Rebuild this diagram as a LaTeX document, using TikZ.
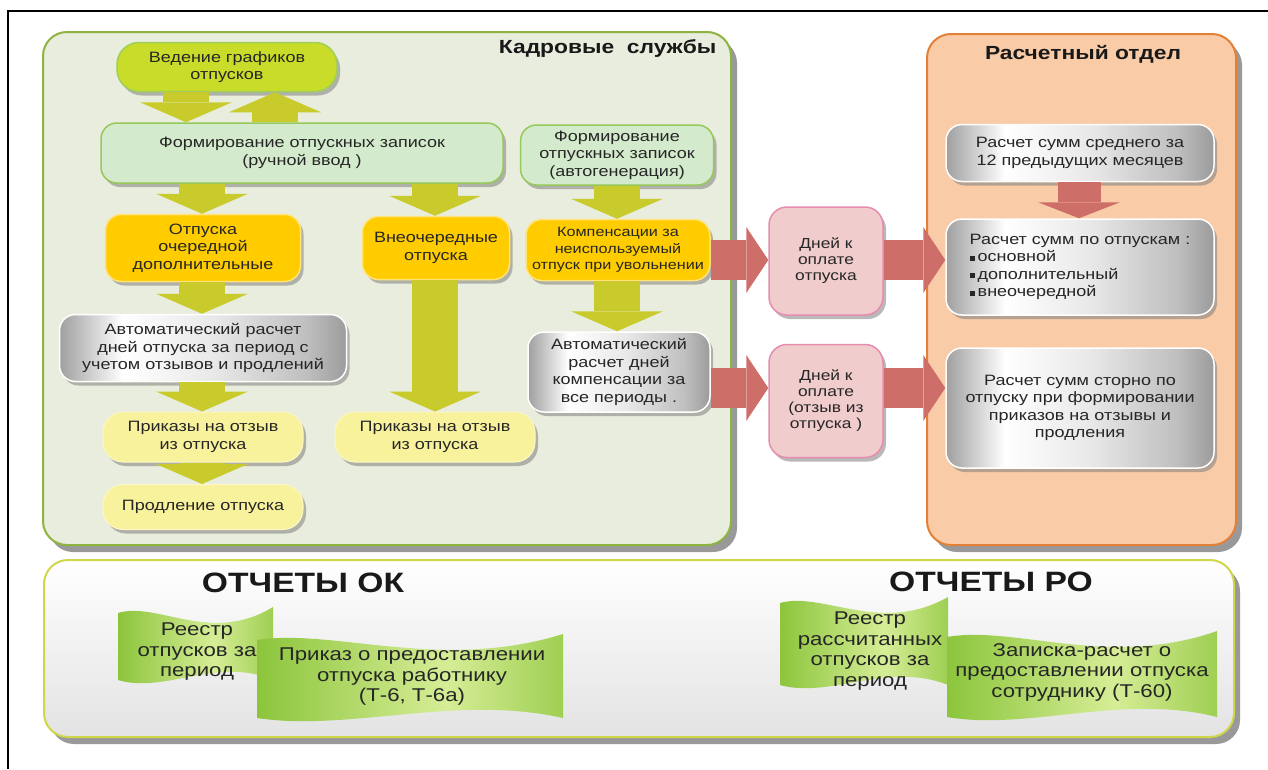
\documentclass[tikz,border=0pt]{standalone}
\usepackage{fontspec}
\setmainfont{Liberation Sans}[FakeStretch=1.2]
\usetikzlibrary{arrows.meta,shadows}

\definecolor{kadrFill}{RGB}{233,237,221}
\definecolor{kadrLine}{RGB}{141,179,64}
\definecolor{raschFill}{RGB}{249,203,166}
\definecolor{raschLine}{RGB}{226,128,56}
\definecolor{otchLine}{RGB}{208,214,72}
\definecolor{vedFill}{RGB}{201,220,41}
\definecolor{vedLine}{RGB}{160,206,90}
\definecolor{formFill}{RGB}{212,234,204}
\definecolor{formLine}{RGB}{150,200,90}
\definecolor{otpFill}{RGB}{255,204,0}
\definecolor{otpLine}{RGB}{255,226,120}
\definecolor{prikFill}{RGB}{249,242,157}
\definecolor{prikLine}{RGB}{252,247,196}
\definecolor{pinkFill}{RGB}{240,204,204}
\definecolor{pinkLine}{RGB}{230,140,175}
\definecolor{arrYel}{RGB}{200,203,43}
\definecolor{arrRed}{RGB}{205,110,104}
\definecolor{flagDark}{RGB}{140,197,60}
\definecolor{flagLight}{RGB}{214,237,150}

\pgfdeclarehorizontalshading{metal}{100bp}{color(0bp)=(gray!75); color(25bp)=(gray!75); color(36bp)=(white); color(52bp)=(gray!18); color(68bp)=(gray!50); color(75bp)=(gray!78); color(100bp)=(gray!78)}
\pgfdeclarehorizontalshading{flagshade}{100bp}{color(0bp)=(flagDark); color(25bp)=(flagDark); color(56bp)=(flagLight); color(75bp)=(flagDark!75!flagLight); color(100bp)=(flagDark!75!flagLight)}

\newcommand{\bul}{\rule[1pt]{5pt}{5pt}\hspace{3pt}}

\tikzset{
  panel/.style={rounded corners=24pt, line width=2pt,
    drop shadow={shadow xshift=6pt, shadow yshift=-7pt, fill=gray, opacity=.8}},
  paneltitle/.style={font=\fontsize{19}{22}\selectfont\bfseries, text=black!90},
  bigtitle/.style={font=\fontsize{28}{32}\selectfont\bfseries, text=black!90},
  box/.style={draw, rounded corners=16pt, align=center, inner sep=2pt, text=black!85,
    font=\fontsize{15}{17.5}\selectfont,
    drop shadow={shadow xshift=3pt, shadow yshift=-4pt, fill=gray, opacity=.55}},
  vedbox/.style={box, fill=vedFill, draw=vedLine, line width=1.5pt, rounded corners=22pt},
  formbox/.style={box, fill=formFill, draw=formLine, line width=1.5pt},
  otpbox/.style={box, fill=otpFill, draw=otpLine, line width=1.5pt},
  prikbox/.style={box, fill=prikFill, draw=prikLine, line width=1pt, rounded corners=20pt},
  metalbox/.style={box, shade, shading=metal, draw=white, line width=1.5pt},
  pinkbox/.style={box, fill=pinkFill, draw=pinkLine, line width=1.5pt, rounded corners=18pt,
    font=\fontsize{14.5}{16}\selectfont},
  fatarrow/.style={draw=arrYel, line width=46pt, -{Triangle[width=92pt, length=20pt, line width=0pt]}},
  redarrow/.style={draw=arrRed, line width=40pt, -{Triangle[width=66pt, length=22pt, line width=0pt]}},
  reddown/.style={draw=arrRed, line width=43pt, -{Triangle[width=82pt, length=16pt, line width=0pt]}},
  flag/.style={shade, shading=flagshade},
  flagtext/.style={align=center, font=\fontsize{18.5}{20.5}\selectfont, text=black!85}
}

\begin{document}
\begin{tikzpicture}[x=1pt, y=-1pt]
	\useasboundingbox (0,0) rectangle (1268,769);
	\draw [line width=1.5pt] (8,769) -- (8,11) -- (1268,11);

	% панели
	\draw [panel, fill=kadrFill, draw=kadrLine] (43,32) rectangle (731,545);
	\draw [panel, fill=raschFill, draw=raschLine] (927,34) rectangle (1236,545);
	\draw [panel, top color=white, bottom color=gray!22, draw=otchLine] (44,560) rectangle (1234,737);
	\node [paneltitle, anchor=east] (kadrTitle) at (720,48) {Кадровые\ \ службы};
	\node [paneltitle] (raschTitle) at (1083,54) {Расчетный отдел};

	% кадровые службы
	\node [vedbox, minimum width=220pt, minimum height=49pt] (ved) at (227,67) {Ведение графиков\\отпусков};
	\node [formbox, minimum width=402pt, minimum height=60pt] (formRuch) at (302,153) {Формирование отпускных записок\\(ручной ввод )};
	\node [formbox, minimum width=193pt, minimum height=60pt] (formAvto) at (617,155) {Формирование\\отпускных записок\\(автогенерация)};
	\node [otpbox, minimum width=195pt, minimum height=67pt] (otpOch) at (203,248) {Отпуска\\очередной\\дополнительные};
	\node [otpbox, minimum width=147pt, minimum height=63pt] (otpVne) at (436,248) {Внеочередные\\отпуска};
	\node [otpbox, minimum width=184pt, minimum height=61pt, font=\fontsize{13.5}{16.5}\selectfont] (komp) at (618,250) {Компенсации за\\неиспользуемый\\отпуск при увольнении};
	\node [metalbox, minimum width=287pt, minimum height=67pt] (raschOtp) at (203,348) {Автоматический расчет\\дней отпуска за период с\\учетом отзывов и продлений};
	\node [metalbox, minimum width=182pt, minimum height=80pt] (raschKomp) at (619,372) {Автоматический\\расчет дней\\компенсации за\\все периоды .};
	\node [prikbox, minimum width=200pt, minimum height=50pt] (prikOtz1) at (203,437) {Приказы на отзыв\\из отпуска};
	\node [prikbox, minimum width=200pt, minimum height=45pt] (prodl) at (203,507) {Продление отпуска};
	\node [prikbox, minimum width=200pt, minimum height=50pt] (prikOtz2) at (435,437) {Приказы на отзыв\\из отпуска};

	% дни к оплате
	\node [pinkbox, minimum width=114pt, minimum height=108pt] (dni1) at (826,261) {Дней к\\оплате\\отпуска};
	\node [pinkbox, minimum width=114pt, minimum height=113pt] (dni2) at (826,401) {Дней к\\оплате\\(отзыв из\\отпуска )};

	% расчетный отдел
	\node [metalbox, minimum width=268pt, minimum height=57pt] (srednee) at (1080,153) {Расчет сумм среднего за\\12 предыдущих месяцев};
	\node [metalbox, minimum width=268pt, minimum height=96pt, align=left] (sumOtp) at (1080,267) {Расчет сумм по отпускам :\\\bul основной\\\bul дополнительный\\\bul внеочередной};
	\node [metalbox, minimum width=268pt, minimum height=120pt] (storno) at (1080,408) {Расчет сумм сторно по\\отпуску при формировании\\приказов на отзывы и\\продления};

	% стрелки
	\coordinate (colA) at (186,0);
	\coordinate (colB) at (275,0);
	\coordinate (colC) at (202,0);
	\coordinate (colD) at (435,0);
	\coordinate (colE) at (617,0);
	\coordinate (colF) at (1079,0);
	\coordinate (rowQ) at (0,260);
	\coordinate (rowR) at (0,388);
	\draw [fatarrow] (ved.south -| colA) -- (formRuch.north -| colA);
	\draw [fatarrow] (formRuch.north -| colB) -- (ved.south -| colB);
	\draw [fatarrow] (formRuch.south -| colC) -- (otpOch.north -| colC);
	\draw [fatarrow] (formRuch.south -| colD) -- (otpVne.north -| colD);
	\draw [fatarrow] (formAvto.south -| colE) -- (komp.north -| colE);
	\draw [fatarrow] (otpOch.south -| colC) -- (raschOtp.north -| colC);
	\draw [fatarrow] (raschOtp.south -| colC) -- (prikOtz1.north -| colC);
	\draw [fatarrow] (prikOtz1.south -| colC) -- (prodl.north -| colC);
	\draw [fatarrow] (otpVne.south -| colD) -- (prikOtz2.north -| colD);
	\draw [fatarrow] (komp.south -| colE) -- (raschKomp.north -| colE);
	\draw [reddown] (srednee.south -| colF) -- (sumOtp.north -| colF);
	\draw [redarrow] (komp.east |- rowQ) -- (dni1.west |- rowQ);
	\draw [redarrow] (dni1.east |- rowQ) -- (sumOtp.west |- rowQ);
	\draw [redarrow] (raschKomp.east |- rowR) -- (dni2.west |- rowR);
	\draw [redarrow] (dni2.east |- rowR) -- (storno.west |- rowR);

	% отчеты
	\node [bigtitle] (otchOK) at (303,583) {ОТЧЕТЫ ОК};
	\node [bigtitle] (otchRO) at (991,582) {ОТЧЕТЫ РО};

	\path [flag] (118,613) .. controls (157,601) and (211,645) .. (273,607) -- (273,680) .. controls (219,656) and (165,694) .. (118,680) -- cycle;
	\node [flagtext] (reestrOK) at (197,652) {Реестр\\отпусков за\\период};
	\path [flag] (257,640) .. controls (334,628) and (441,672) .. (563,634) -- (563,718) .. controls (456,694) and (349,732) .. (257,718) -- cycle;
	\node [flagtext] (prikazOK) at (412,677) {Приказ о предоставлении\\отпуска работнику\\(Т-6, Т-6а)};

	\path [flag] (780,603) .. controls (822,591) and (881,635) .. (948,597) -- (948,685) .. controls (889,661) and (830,699) .. (780,685) -- cycle;
	\node [flagtext] (reestrRO) at (870,651) {Реестр\\рассчитанных\\отпусков за\\период};
	\path [flag] (947,637) .. controls (1015,625) and (1109,669) .. (1217,631) -- (1217,717) .. controls (1123,693) and (1028,731) .. (947,717) -- cycle;
	\node [flagtext] (zapiskaRO) at (1082,672) {Записка-расчет о\\предоставлении отпуска\\сотруднику (Т-60)};
\end{tikzpicture}
\end{document}
